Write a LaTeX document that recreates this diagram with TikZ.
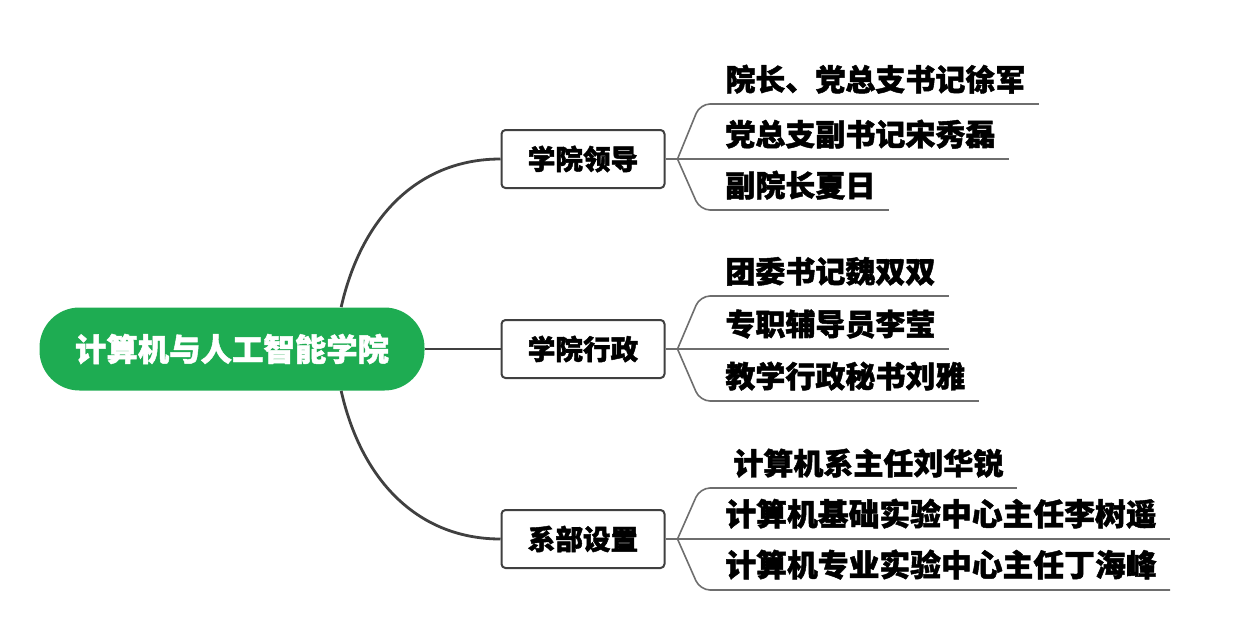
\documentclass[tikz,border=0pt]{standalone}
\usepackage{fontspec}
\setmainfont{Noto Sans CJK SC}[BoldFeatures={FakeBold=1.5}]
\usepackage{tikz}
\definecolor{rootgreen}{RGB}{30,172,82}
\definecolor{darkline}{RGB}{64,64,64}
\definecolor{leafgray}{RGB}{110,110,110}

\begin{document}
\begin{tikzpicture}[x=.5pt,y=-.5pt,
  leaf/.style={anchor=south west, inner xsep=6.5pt, inner ysep=5pt, font=\bfseries\fontsize{15}{18}\selectfont},
  leafline/.style={draw=leafgray, line width=.8pt},
  mainline/.style={draw=darkline, line width=1.4pt}]
 \useasboundingbox (0,0) rectangle (1233,643);
 \node[rounded corners=20pt, fill=rootgreen, text=white, font=\bfseries\fontsize{15.7}{18}\selectfont, minimum width=192.5pt, minimum height=41.5pt] (root) at (232,349) {计算机与人工智能学院};
 \begin{scope}[every node/.style={draw=darkline, line width=1pt, rounded corners=2pt, fill=white, minimum width=81.5pt, minimum height=29pt, font=\bfseries\fontsize{13.8}{16}\selectfont}]
  \node (lead) at (583,159) {学院领导};
  \node (admin) at (583,349) {学院行政};
  \node (dept) at (583,539) {系部设置};
 \end{scope}
 \node[leaf] (l1) at (712,104) {院长、党总支书记徐军};
 \node[leaf] (l2) at (712,159) {党总支副书记宋秀磊};
 \node[leaf] (l3) at (712,210) {副院长夏日};
 \node[leaf] (l4) at (712,296) {团委书记魏双双};
 \node[leaf] (l5) at (712,349) {专职辅导员李莹};
 \node[leaf] (l6) at (712,401) {教学行政秘书刘雅};
 \node[leaf] (l7) at (720,488) {计算机系主任刘华锐};
 \node[leaf,font=\bfseries\fontsize{15.4}{18}\selectfont] (l8) at (712,539) {计算机基础实验中心主任李树遥};
 \node[leaf,font=\bfseries\fontsize{15.4}{18}\selectfont] (l9) at (712,590) {计算机专业实验中心主任丁海峰};
 \draw[mainline] (root.21) .. controls (362,215) and (420,159) .. (lead.west);
 \draw[mainline] (root.east) -- (admin.west);
 \draw[mainline] (root.-21) .. controls (362,483) and (420,539) .. (dept.west);
 \draw[leafline] (lead.east) -- ++(12,0) coordinate (f1) -- (l2.south east);
 \draw[leafline, rounded corners=5pt] (f1) -- ([xshift=-6pt]l1.south west) -- (l1.south east);
 \draw[leafline, rounded corners=5pt] (f1) -- ([xshift=-6pt]l3.south west) -- (l3.south east);
 \draw[leafline] (admin.east) -- ++(12,0) coordinate (f2) -- (l5.south east);
 \draw[leafline, rounded corners=5pt] (f2) -- ([xshift=-6pt]l4.south west) -- (l4.south east);
 \draw[leafline, rounded corners=5pt] (f2) -- ([xshift=-6pt]l6.south west) -- (l6.south east);
 \draw[leafline] (dept.east) -- ++(12,0) coordinate (f3) -- (l8.south east);
 \draw[leafline, rounded corners=5pt] (f3) -- ([xshift=-10pt]l7.south west) -- (l7.south east);
 \draw[leafline, rounded corners=5pt] (f3) -- ([xshift=-6pt]l9.south west) -- (l9.south east);
\end{tikzpicture}
\end{document}
